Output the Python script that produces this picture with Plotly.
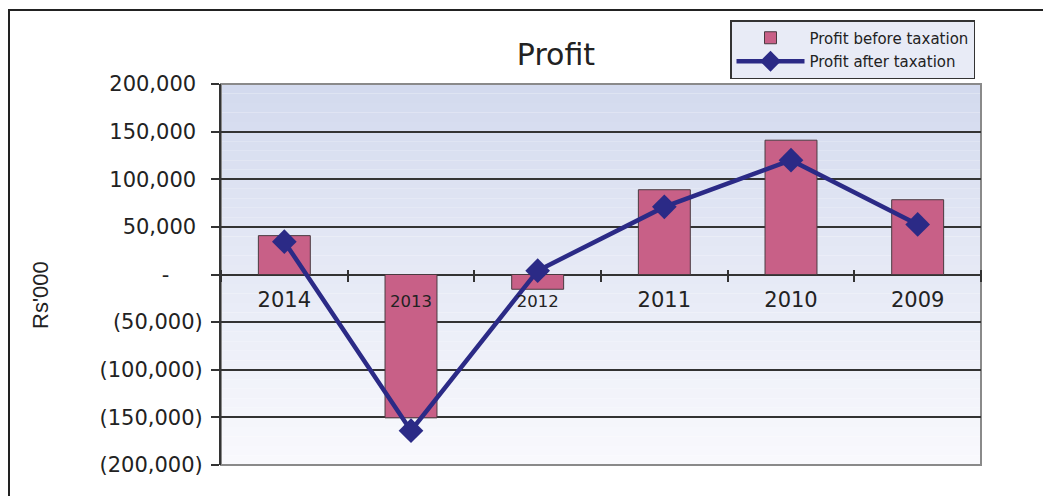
import plotly.graph_objects as go

years = ["2014", "2013", "2012", "2011", "2010", "2009"]
profit_before_tax = [40800, -150500, -15500, 89000, 141000, 78500]
profit_after_tax = [34500, -164000, 4000, 71000, 120000, 52600]
tick_vals = [200000, 150000, 100000, 50000, 0, -50000, -100000, -150000, -200000]
NB = "\u00a0"
tick_text = ["200,000" + NB, "150,000" + NB, "100,000" + NB, "50,000" + NB, "-" + NB * 5,
             "(50,000)", "(100,000)", "(150,000)", "(200,000)"]
x_tick_text = ["2014", "<span style='font-size:16.5px'>2013</span>", "<span style='font-size:16.5px'>2012</span>",
               "2011", "2010", "2009"]

W, H = 1051, 496
OFF = 8  # page body margin offset
L, R, T, B = 221 - OFF, 981 - OFF, 84 - OFF, 465 - OFF
pw, ph = R - L, B - T
FONT = "DejaVu Sans, Verdana, sans-serif"

fig = go.Figure()
fig.add_trace(go.Bar(x=years, y=profit_before_tax, name="Profit before taxation",
                     legendgroup="a",
                     marker=dict(color="#c86087", line=dict(color="#4a3a40", width=1))))
fig.add_trace(go.Scatter(x=years, y=profit_after_tax, name="Profit after taxation",
                         legendgroup="b",
                         mode="lines+markers",
                         line=dict(color="#2b2a86", width=4.5),
                         marker=dict(symbol="diamond", size=19, color="#2b2a86")))

shapes = []
n = 40
top_c = (211, 218, 238)
bot_c = (249, 249, 253)
for i in range(n):
    f = i / (n - 1)
    c = tuple(int(round(top_c[k] + (bot_c[k] - top_c[k]) * f)) for k in range(3))
    shapes.append(dict(type="rect", xref="x domain", yref="y domain",
                       x0=0, x1=1, y0=1 - (i + 1) / n, y1=1 - i / n,
                       fillcolor="rgb(%d,%d,%d)" % c, line=dict(width=0), layer="below"))
shapes.append(dict(type="rect", xref="x domain", yref="y domain", x0=0, x1=1, y0=0, y1=1,
                   line=dict(color="#8a8a8a", width=2), layer="below"))
# outer frame
shapes.append(dict(type="rect", xref="paper", yref="paper",
                   x0=(1 - L) / pw, x1=(W + 20 - L) / pw,
                   y0=(B - (H + 20)) / ph, y1=(B - (10 - OFF)) / ph,
                   line=dict(color="#222222", width=2)))
fig.update_layout(shapes=shapes)

fig.add_annotation(text="Rs'000", textangle=-90, xref="paper", yref="paper",
                   x=(40 - OFF - L) / pw, y=(B - (295 - OFF)) / ph,
                   xanchor="center", yanchor="middle", showarrow=False,
                   font=dict(size=22, family="Liberation Sans Narrow, Arial Narrow, sans-serif",
                             color="#222222"))

fig.update_layout(
    width=W, height=H,
    margin=dict(l=L, r=W - R, t=T, b=H - B),
    paper_bgcolor="white",
    plot_bgcolor="rgba(0,0,0,0)",
    font=dict(family=FONT, color="#222222"),
    title=dict(text="Profit", x=(556 - OFF - L) / pw, xref="paper", xanchor="center",
               y=1 - (54 - OFF) / H, yanchor="middle", yref="container",
               font=dict(size=30, color="#222222", family=FONT)),
    bargap=0.59,
    showlegend=True,
    legend=dict(x=(730 - OFF - L) / pw, y=(B - (20 - OFF)) / ph, xanchor="left", yanchor="top",
                bgcolor="#e8ebf6", bordercolor="#333333", borderwidth=1.5,
                font=dict(size=15, color="#222222", family=FONT),
                itemwidth=68, tracegroupgap=1,
                traceorder="grouped"),
    xaxis=dict(type="category", categoryorder="array", categoryarray=years,
               tickvals=years, ticktext=x_tick_text,
               anchor="free", position=0.5 + 6 / ph,
               showline=False, ticks="outside", ticklen=12, tickwidth=1.5,
               tickcolor="#333333", tickson="boundaries",
               ticklabelstandoff=16,
               tickfont=dict(size=21, color="#222222", family=FONT),
               showgrid=False, range=[-0.5, 5.5], fixedrange=True),
    yaxis=dict(range=[-200000, 200000], tickvals=tick_vals, ticktext=tick_text,
               showgrid=True, gridcolor="#333333", gridwidth=1.5,
               zeroline=True, zerolinecolor="#333333", zerolinewidth=1.5,
               showline=True, linecolor="#333333", linewidth=2,
               ticks="outside", ticklen=8, tickwidth=1.5, tickcolor="#333333",
               ticklabelstandoff=4,
               tickfont=dict(size=21, color="#222222", family=FONT)),
)

fig.write_html("out.html")
